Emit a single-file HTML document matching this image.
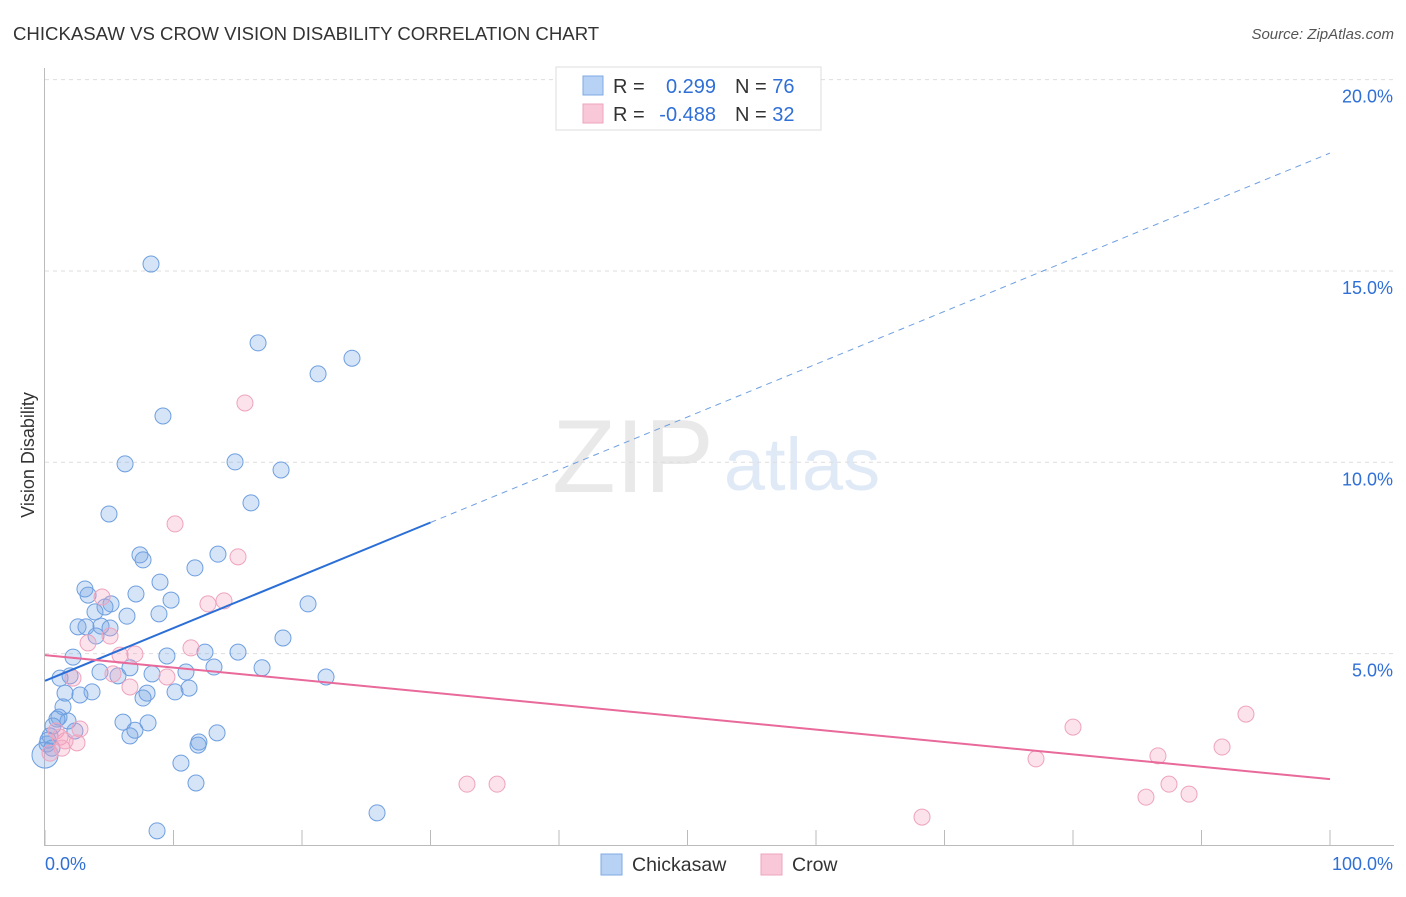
<!DOCTYPE html>
<html><head><meta charset="utf-8"><style>
body{margin:0;background:#fff;font-family:"Liberation Sans",sans-serif}
svg text{font-family:"Liberation Sans",sans-serif}
</style></head><body>
<svg id="c" width="1406" height="892" xmlns="http://www.w3.org/2000/svg">
<text x="13" y="40" font-size="18.6" fill="#333">CHICKASAW VS CROW VISION DISABILITY CORRELATION CHART</text>
<text x="1394" y="39" font-size="15" fill="#555" font-style="italic" text-anchor="end">Source: ZipAtlas.com</text>
<g opacity="0.18">
<text x="633" y="492" font-size="104" fill="#888" text-anchor="middle" font-family="Liberation Serif">ZIP</text>
<text x="802" y="490" font-size="74" fill="#5b8fd8" text-anchor="middle">atlas</text>
</g>
<g id="grid"></g><g id="axes"></g><g id="pts"></g><g id="trend"></g>
<text transform="translate(34,455) rotate(-90)" font-size="18" fill="#333" text-anchor="middle">Vision Disability</text>
<g>
<rect x="556" y="67" width="265" height="63" fill="#fff" stroke="#ddd"/>
<rect x="583" y="76" width="20" height="19" fill="#b8d2f5" stroke="#7fa9e3"/>
<rect x="583" y="104" width="20" height="19" fill="#f9c8d8" stroke="#eea3bd"/>
<text x="613" y="93" font-size="20" fill="#333">R =</text>
<text x="716" y="93" font-size="20" fill="#2f6fd6" text-anchor="end">0.299</text>
<text x="735" y="93" font-size="20" fill="#333">N = <tspan fill="#2f6fd6">76</tspan></text>
<text x="613" y="121" font-size="20" fill="#333">R =</text>
<text x="716" y="121" font-size="20" fill="#2f6fd6" text-anchor="end">-0.488</text>
<text x="735" y="121" font-size="20" fill="#333">N = <tspan fill="#2f6fd6">32</tspan></text>
</g>
<g>
<rect x="601" y="854" width="21" height="21" fill="#b8d2f5" stroke="#7fa9e3"/>
<text x="632" y="871" font-size="19.5" fill="#333">Chickasaw</text>
<rect x="761" y="854" width="21" height="21" fill="#f9c8d8" stroke="#eea3bd"/>
<text x="792" y="871" font-size="19.5" fill="#333">Crow</text>
</g>
</svg>
<script>
const yTicks=[5,10,15,20];
const yTickLabels=["5.0%","10.0%","15.0%","20.0%"];
const xTicks=[0,10,20,30,40,50,60,70,80,90,100];
const blueX=[8.25,16.58,23.89,21.25,9.18,6.23,14.79,18.37,16.03,4.98,7.39,7.63,13.46,11.67,8.95,3.11,3.35,7.08,5.14,4.67,9.81,20.47,3.89,6.38,8.87,2.57,3.19,4.36,5.06,3.97,18.52,12.45,15.02,2.18,9.49,6.61,4.28,13.15,16.89,10.97,8.33,5.68,1.17,1.95,21.87,11.21,1.56,3.66,2.72,10.12,7.94,7.63,1.40,1.09,0.93,1.79,6.07,8.02,0.62,7.00,2.33,13.39,6.61,0.39,11.98,11.91,0.16,0.23,10.58,11.75,25.84,8.72,0,0.54];
const blueY=[15.18,13.12,12.72,12.31,11.21,9.96,10.01,9.80,8.94,8.65,7.58,7.45,7.60,7.24,6.87,6.69,6.53,6.56,6.30,6.22,6.40,6.30,6.09,5.98,6.04,5.70,5.70,5.72,5.67,5.46,5.41,5.04,5.04,4.91,4.94,4.63,4.52,4.65,4.63,4.52,4.47,4.42,4.36,4.42,4.39,4.10,3.97,4.00,3.92,4.00,3.97,3.84,3.61,3.34,3.29,3.24,3.21,3.19,3.11,3.00,2.98,2.93,2.85,2.85,2.69,2.61,2.64,2.74,2.14,1.62,0.84,0.37,2.35,2.53];
const pinkX=[15.56,10.12,15.02,4.44,13.93,12.68,5.06,3.35,11.36,5.84,7.00,2.18,5.29,6.61,9.49,2.72,0.86,1.17,2.49,1.56,1.32,0.39,80.0,93.46,91.60,86.61,77.12,32.84,35.18,87.47,89.03,85.68,68.25];
const pinkY=[11.55,8.39,7.53,6.48,6.38,6.30,5.46,5.28,5.15,4.96,4.99,4.36,4.47,4.13,4.39,3.03,2.98,2.82,2.67,2.72,2.53,2.40,3.08,3.42,2.56,2.33,2.25,1.59,1.59,1.59,1.33,1.25,0.73];
const blueTrend=[4.29,18.08];
const blueSolidEnd=30;
const pinkTrend=[4.96,1.72];
const X=v=>45+v*12.85, Y=v=>845-v*38.27;
const NS="http://www.w3.org/2000/svg";
function mk(p,t,a){const e=document.createElementNS(NS,t);for(const k in a)e.setAttribute(k,a[k]);document.getElementById(p).appendChild(e);return e;}
yTicks.forEach((t,i)=>{
 const l=mk('grid','line',{x1:45,x2:1394,y1:Y(t),y2:Y(t),stroke:'#ddd','stroke-dasharray':'4,4'});
 
 
 const tx=mk('grid','text',{x:1393,y:Y(t)+23,'font-size':18,fill:'#2f6fd6','text-anchor':'end'});
 tx.textContent=yTickLabels[i];
 
 
});
const ax=mk('axes','line',{x1:44.5,x2:44.5,y1:68,y2:845,stroke:'#bbb'});


const bx=mk('axes','line',{x1:44,x2:1394,y1:845.5,y2:845.5,stroke:'#bbb'});


xTicks.forEach(t=>{const l=mk('axes','line',{x1:X(t),x2:X(t),y1:830,y2:845,stroke:'#bbb'});
 
 });
const x0=mk('axes','text',{x:45,y:870,'font-size':18,fill:'#2f6fd6'});x0.textContent='0.0%';


const x1=mk('axes','text',{x:1393,y:870,'font-size':18,fill:'#2f6fd6','text-anchor':'end'});x1.textContent='100.0%';


blueX.forEach((v,i)=>{const r=(i==72)?13:8;const c=mk('pts','circle',{cx:X(v),cy:Y(blueY[i]),r:r,fill:'rgba(120,165,230,0.3)',stroke:'#6e9fe0','stroke-width':1});
 
 });
pinkX.forEach((v,i)=>{const c=mk('pts','circle',{cx:X(v),cy:Y(pinkY[i]),r:8,fill:'rgba(245,160,190,0.3)',stroke:'#eea3bd','stroke-width':1});
 
 });
const by=x=>blueTrend[0]+(blueTrend[1]-blueTrend[0])*x/100;
const b1=mk('trend','line',{x1:X(0),y1:Y(by(0)),x2:X(blueSolidEnd),y2:Y(by(blueSolidEnd)),stroke:'#2b6fd6','stroke-width':2});


const b2=mk('trend','line',{x1:X(blueSolidEnd),y1:Y(by(blueSolidEnd)),x2:X(100),y2:Y(by(100)),stroke:'#6e9fe0','stroke-width':1,'stroke-dasharray':'6,5'});


const p1=mk('trend','line',{x1:X(0),y1:Y(pinkTrend[0]),x2:X(100),y2:Y(pinkTrend[1]),stroke:'#e8699a','stroke-width':2});


</script>
</body></html>
